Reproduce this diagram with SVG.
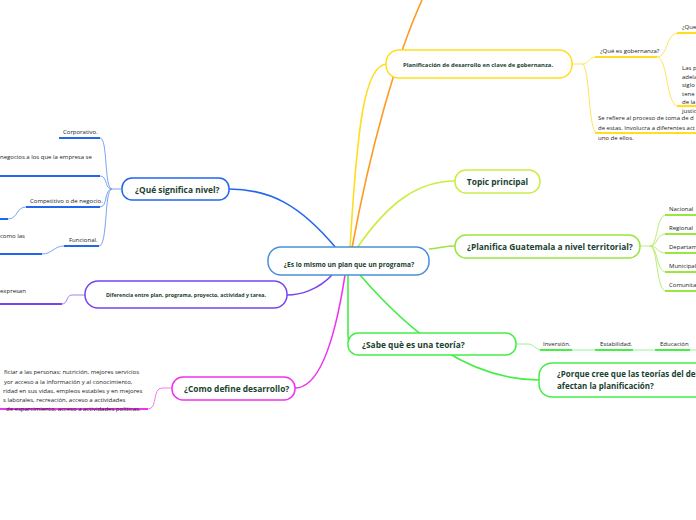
<svg xmlns="http://www.w3.org/2000/svg" width="696" height="520" viewBox="0 0 696 520">
<style>
.node{fill:#fff;stroke-width:1.5}
.nt{font-family:"Open Sans",sans-serif;font-weight:bold;fill:#1b3f30}
.ct{font-family:"Open Sans",sans-serif;font-size:6px;fill:#222}
.c{fill:none;stroke-width:1.6}
.t{fill:none;stroke-width:1}
.u{fill:none;stroke-width:2.2}
</style>
<rect width="696" height="520" fill="#fff"/>
<g id="connectors">
  <path class="c" stroke="#ff9922" d="M352,248 C370,150 395,60 422,0"/>
  <path class="c" stroke="#ffdd22" d="M350,248 C357,130 364,64 387,64"/>
  <path class="c" stroke="#c8ee44" d="M357,248 C390,200 420,181 455,181"/>
  <path class="c" stroke="#99e640" d="M429,249 C440,248 445,246 455,246"/>
  <path class="c" stroke="#44ee44" d="M348,275 L348,334 Q348,344 352,344"/>
  <path class="c" stroke="#44ee44" d="M360,275 C412,335 470,380 539,380"/>
  <path class="c" stroke="#2266ee" d="M336,248 C300,205 270,189 229,189"/>
  <path class="c" stroke="#7744ee" d="M332,275 C318,290 300,295 287,295"/>
  <path class="c" stroke="#ee33ee" d="M345,275 C335,340 320,388 295,388"/>

  <path class="t" stroke="#ffe45c" d="M572,64 L582,64 C590,64 588,57 597,57"/>
  <path class="t" stroke="#ffe45c" d="M582,64 C590,64 588,133 597,133"/>
  <path class="u" stroke="#ffdd22" d="M595,57 L657,57"/>
  <path class="t" stroke="#ffe45c" d="M657,57 C668,57 666,33 678,33"/>
  <path class="t" stroke="#ffe45c" d="M657,57 C668,57 666,106 678,106"/>
  <path class="u" stroke="#ffdd22" d="M677,33 L696,33"/>
  <path class="u" stroke="#ffdd22" d="M677,106 L696,106"/>
  <path class="u" stroke="#ffdd22" d="M595,133 L696,133"/>

  <path class="t" stroke="#b8ee70" d="M640,246 L650,246"/>
  <path class="t" stroke="#b8ee70" d="M650,246 C658,246 656,215 666,215"/>
  <path class="t" stroke="#b8ee70" d="M650,246 C658,246 656,234 666,234"/>
  <path class="t" stroke="#b8ee70" d="M650,246 C658,246 656,253 666,253"/>
  <path class="t" stroke="#b8ee70" d="M650,246 C658,246 656,272 666,272"/>
  <path class="t" stroke="#b8ee70" d="M650,246 C658,246 656,291 666,291"/>
  <path class="u" stroke="#99e640" d="M665,215 L696,215 M665,234 L696,234 M665,253 L696,253 M665,272 L696,272 M665,291 L696,291"/>

  <path class="t" stroke="#99f099" d="M516,344 L528,344 C534,344 535,350 542,350 L696,350"/>
  <path class="u" stroke="#44ee44" d="M540,350 L572,350 M595,350 L633,350 M655,350 L690,350"/>

  <path class="t" stroke="#7aa2f5" d="M122,189 L112,189"/>
  <path class="t" stroke="#7aa2f5" d="M112,189 C104,189 108,138 100,138"/>
  <path class="t" stroke="#7aa2f5" d="M112,189 C104,189 108,176 100,176"/>
  <path class="t" stroke="#7aa2f5" d="M112,189 C104,189 108,207 100,207"/>
  <path class="t" stroke="#7aa2f5" d="M112,189 C104,189 108,246 99,246"/>
  <path class="t" stroke="#7aa2f5" d="M26,207 C16,207 18,219 8,219"/>
  <path class="t" stroke="#7aa2f5" d="M64,246 C54,246 52,254 42,254"/>
  <path class="u" stroke="#2266ee" d="M59,138 L100,138 M0,176 L100,176 M26,207 L100,207 M0,219 L8,219 M64,246 L99,246 M0,254 L42,254"/>

  <path class="t" stroke="#a283f2" d="M85,295 L72,295 C66,295 68,304 62,304"/>
  <path class="u" stroke="#7744ee" d="M0,304 L62,304"/>

  <path class="t" stroke="#f27af2" d="M172,388 L162,388 C152,388 158,409 148,409"/>
  <path class="u" stroke="#ee33ee" d="M0,409 L148,409"/>
</g>

<g id="center">
  <rect class="node" stroke="#4a90d9" x="268" y="247" width="161" height="28" rx="13"/>
  <text class="nt" x="349" y="266.5" font-size="6.6" text-anchor="middle">¿Es lo mismo un plan que un programa?</text>
</g>
<g id="planificacion">
  <rect class="node" stroke="#ffdd22" x="386" y="50" width="186" height="28" rx="13"/>
  <text class="nt" x="403" y="66.5" font-size="5.9">Planificación de desarrollo en clave de gobernanza.</text>
</g>
<g id="gobernanza">
  <text class="ct" x="600" y="53">¿Qué es gobernanza?</text>
</g>
<g id="que">
  <text class="ct" x="682" y="29">¿Que</text>
</g>
<g id="lasp">
  <text class="ct" x="682" y="70">Las p</text>
  <text class="ct" x="682" y="78.5">adela</text>
  <text class="ct" x="682" y="87">siglo</text>
  <text class="ct" x="682" y="95.5">tene</text>
  <text class="ct" x="682" y="104">de la</text>
  <text class="ct" x="682" y="113">justic</text>
</g>
<g id="serefiere">
  <text class="ct" x="598" y="120">Se refiere al proceso de toma de d</text>
  <text class="ct" x="598" y="130">de estas. Involucra a diferentes act</text>
  <text class="ct" x="598" y="139.5">uno de ellos.</text>
</g>
<g id="topic">
  <rect class="node" stroke="#c8ee44" x="455" y="170" width="85" height="23" rx="11"/>
  <text class="nt" x="497.5" y="184.5" font-size="8.4" text-anchor="middle">Topic principal</text>
</g>
<g id="guatemala">
  <rect class="node" stroke="#99e640" x="455" y="235" width="185" height="23" rx="11"/>
  <text class="nt" x="467" y="249.5" font-size="8.4">¿Planifica Guatemala a nivel territorial?</text>
</g>
<g id="territorios">
  <text class="ct" x="669" y="211">Nacional</text>
  <text class="ct" x="669" y="230">Regional</text>
  <text class="ct" x="669" y="249">Departam</text>
  <text class="ct" x="669" y="268">Municipal</text>
  <text class="ct" x="669" y="287">Comunita</text>
</g>
<g id="teoria">
  <rect class="node" stroke="#44ee44" x="348" y="333" width="168" height="22" rx="10"/>
  <text class="nt" x="362" y="347.5" font-size="8.4">¿Sabe què es una teoría?</text>
</g>
<g id="teoria-items">
  <text class="ct" x="543" y="346">Inversión.</text>
  <text class="ct" x="600" y="346">Estabilidad.</text>
  <text class="ct" x="660" y="346">Educación</text>
</g>
<g id="porque">
  <rect class="node" stroke="#44ee44" x="539" y="363" width="180" height="34" rx="13"/>
  <text class="nt" x="557" y="376.5" font-size="8">¿Porque cree que las teorías del des</text>
  <text class="nt" x="557" y="388.5" font-size="8">afectan la planificación?</text>
</g>
<g id="nivel">
  <rect class="node" stroke="#2266ee" x="122" y="178" width="107" height="22" rx="10"/>
  <text class="nt" x="135" y="192.5" font-size="8.4">¿Qué significa nivel?</text>
</g>
<g id="nivel-items">
  <text class="ct" x="63" y="134">Corporativo.</text>
  <text class="ct" x="0" y="159">negocios a los que la empresa se</text>
  <text class="ct" x="30" y="203">Competitivo o de negocio.</text>
  <text class="ct" x="0" y="238">como las</text>
  <text class="ct" x="69" y="242">Funcional.</text>
</g>
<g id="diferencia">
  <rect class="node" stroke="#7744ee" x="85" y="281" width="202" height="27" rx="13"/>
  <text class="nt" x="186" y="297" font-size="5.3" text-anchor="middle">Diferencia entre plan, programa, proyecto, actividad y tarea.</text>
</g>
<g id="expresan">
  <text class="ct" x="0" y="293">expresan</text>
</g>
<g id="desarrollo">
  <rect class="node" stroke="#ee33ee" x="172" y="377" width="123" height="23" rx="11"/>
  <text class="nt" x="184" y="391.5" font-size="8.4">¿Como define desarrollo?</text>
</g>
<g id="desarrollo-text">
  <text class="ct" x="4" y="374">ficiar a las personas: nutrición, mejores servicios</text>
  <text class="ct" x="4" y="384">yor acceso a la información y al conocimiento,</text>
  <text class="ct" x="3" y="393">ridad en sus vidas, empleos estables y en mejores</text>
  <text class="ct" x="3" y="402">s laborales, recreación, acceso a actividades</text>
  <text class="ct" x="6" y="410.5">de esparcimiento, acceso a actividades políticas.</text>
</g>
</svg>
